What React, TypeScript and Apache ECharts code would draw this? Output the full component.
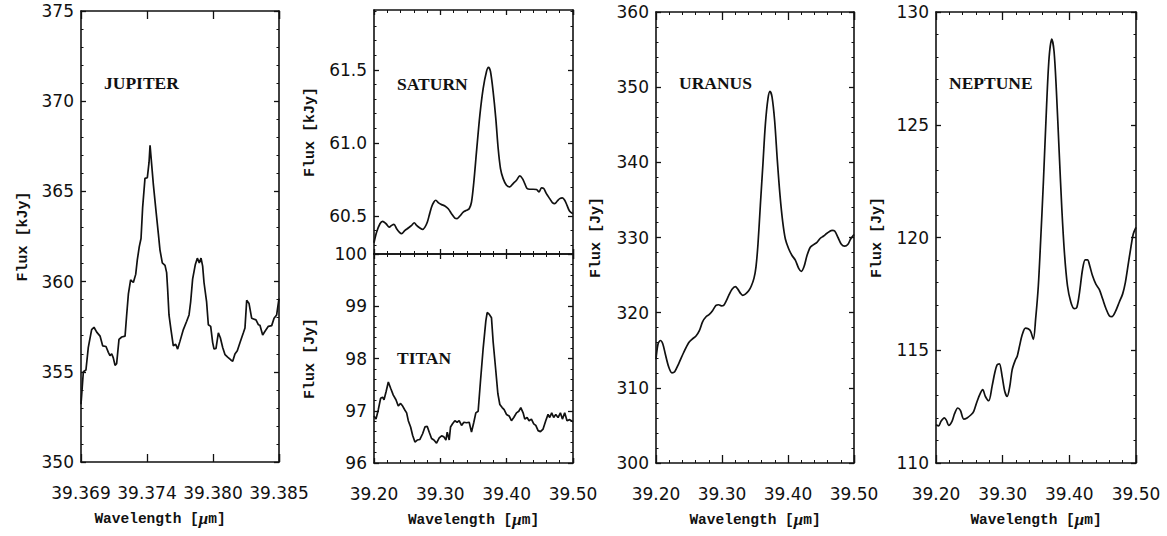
import React, { useEffect, useRef } from "react";
import * as echarts from "echarts";

// ---------- data: [wavelength (µm), flux] ----------
const JUPITER: number[][] = [
  [39.369, 353.2], [39.36919, 355.0], [39.3694, 355.1], [39.36959, 356.35], [39.36986, 357.34], [39.37005, 357.47],
  [39.37027, 357.2], [39.37054, 356.98], [39.37075, 356.44], [39.37102, 356.4], [39.37121, 356.08], [39.37134, 355.9],
  [39.37148, 356.0], [39.37161, 355.77], [39.37175, 355.36], [39.37188, 355.45], [39.37207, 356.8], [39.37229, 356.93],
  [39.37256, 356.98], [39.37269, 358.15], [39.37283, 359.32], [39.37301, 360.1], [39.37323, 359.95], [39.37342, 360.4],
  [39.37355, 361.2], [39.37371, 361.94], [39.37385, 362.39], [39.37398, 364.1], [39.37417, 365.72], [39.37436, 365.76],
  [39.3745, 366.62], [39.37458, 367.56], [39.37466, 366.9], [39.37485, 365.36], [39.37506, 363.92], [39.37525, 362.66],
  [39.37538, 361.76], [39.37557, 361.04], [39.37579, 360.9], [39.37592, 360.5], [39.376, 359.6], [39.37611, 358.15],
  [39.37627, 357.34], [39.37646, 356.44], [39.37665, 356.53], [39.37681, 356.26], [39.377, 356.7], [39.37727, 357.34],
  [39.37754, 357.8], [39.37773, 358.15], [39.37786, 358.87], [39.37802, 360.14], [39.37824, 360.95], [39.3784, 361.3],
  [39.37856, 361.04], [39.3787, 361.3], [39.37883, 360.86], [39.37894, 359.95], [39.37915, 358.87], [39.37929, 357.61],
  [39.37948, 357.52], [39.37964, 356.62], [39.37975, 356.26], [39.37991, 356.3], [39.3801, 357.16], [39.38026, 356.89],
  [39.38045, 356.35], [39.38064, 355.95], [39.38085, 355.81], [39.38109, 355.67], [39.38126, 355.58], [39.38144, 355.99],
  [39.38163, 356.17], [39.38185, 356.62], [39.38212, 357.16], [39.38225, 357.43], [39.38239, 358.96], [39.38258, 358.78],
  [39.38279, 357.97], [39.38314, 357.88], [39.38333, 357.61], [39.38346, 357.58], [39.38368, 357.04], [39.38387, 357.25],
  [39.38414, 357.52], [39.38441, 357.56], [39.3846, 357.97], [39.38481, 358.15], [39.385, 359.05],
];

const SATURN: number[][] = [
  [39.2, 60.317], [39.204, 60.39], [39.209, 60.447], [39.213, 60.463], [39.2181, 60.447], [39.2231, 60.424],
  [39.2266, 60.436], [39.2301, 60.443], [39.2341, 60.413], [39.2381, 60.39], [39.2416, 60.379], [39.2467, 60.402],
  [39.2517, 60.418], [39.2567, 60.436], [39.2607, 60.454], [39.2642, 60.436], [39.2692, 60.418], [39.2733, 60.408],
  [39.2768, 60.424], [39.2803, 60.457], [39.2833, 60.505], [39.2868, 60.562], [39.2903, 60.596], [39.2933, 60.608],
  [39.2968, 60.592], [39.3019, 60.578], [39.3069, 60.569], [39.3119, 60.55], [39.3169, 60.516], [39.3219, 60.486],
  [39.3254, 60.482], [39.3295, 60.5], [39.3345, 60.527], [39.3395, 60.539], [39.3435, 60.55], [39.347, 60.596],
  [39.3505, 60.733], [39.3545, 60.939], [39.3596, 61.191], [39.3646, 61.374], [39.3696, 61.489], [39.3726, 61.518],
  [39.3756, 61.489], [39.3796, 61.351], [39.3836, 61.168], [39.3872, 60.962], [39.3907, 60.825], [39.3947, 60.756],
  [39.3997, 60.711], [39.4047, 60.699], [39.4097, 60.722], [39.4148, 60.745], [39.4198, 60.775], [39.4238, 60.756],
  [39.4273, 60.722], [39.4308, 60.688], [39.4348, 60.683], [39.4398, 60.683], [39.4449, 60.681], [39.4489, 60.665],
  [39.4524, 60.692], [39.4559, 60.688], [39.4599, 60.653], [39.4649, 60.619], [39.4689, 60.592], [39.4725, 60.585],
  [39.476, 60.601], [39.48, 60.619], [39.484, 60.624], [39.4875, 60.608], [39.491, 60.573], [39.495, 60.532],
  [39.5, 60.516],
];

const TITAN: number[][] = [
  [39.2, 96.9], [39.203, 96.84], [39.2065, 97.02], [39.21, 97.24], [39.213, 97.26], [39.2151, 97.21], [39.2181, 97.36],
  [39.2216, 97.55], [39.2251, 97.43], [39.2291, 97.3], [39.2331, 97.21], [39.2366, 97.09], [39.2401, 97.14],
  [39.2432, 97.09], [39.2467, 97.01], [39.2492, 96.96], [39.2517, 96.81], [39.2552, 96.69], [39.2582, 96.53],
  [39.2617, 96.4], [39.2652, 96.44], [39.2692, 96.45], [39.2733, 96.56], [39.2768, 96.69], [39.2803, 96.7],
  [39.2833, 96.59], [39.2868, 96.47], [39.2903, 96.44], [39.2943, 96.38], [39.2983, 96.48], [39.3019, 96.52],
  [39.3054, 96.5], [39.3084, 96.44], [39.3104, 96.59], [39.3134, 96.44], [39.3154, 96.69], [39.3184, 96.75],
  [39.3219, 96.81], [39.3254, 96.78], [39.3284, 96.81], [39.332, 96.72], [39.3355, 96.78], [39.3395, 96.77],
  [39.3435, 96.78], [39.347, 96.59], [39.3505, 96.78], [39.3535, 96.96], [39.357, 96.99], [39.3606, 97.58],
  [39.3646, 98.2], [39.3686, 98.72], [39.3706, 98.88], [39.3736, 98.85], [39.3771, 98.78], [39.3796, 98.32],
  [39.3836, 97.77], [39.3867, 97.33], [39.3897, 97.12], [39.3932, 97.06], [39.3962, 97.02], [39.3997, 96.93],
  [39.4037, 96.9], [39.4072, 96.81], [39.4107, 96.87], [39.4148, 96.96], [39.4183, 96.99], [39.4213, 97.06],
  [39.4248, 96.96], [39.4273, 96.84], [39.4308, 96.87], [39.4338, 96.81], [39.4373, 96.84], [39.4408, 96.75],
  [39.4439, 96.72], [39.4474, 96.62], [39.4509, 96.6], [39.4549, 96.65], [39.4589, 96.81], [39.4624, 96.93],
  [39.4649, 96.87], [39.4679, 96.96], [39.4709, 96.87], [39.474, 96.93], [39.4775, 96.87], [39.481, 96.96],
  [39.484, 96.84], [39.4875, 96.96], [39.491, 96.81], [39.495, 96.83], [39.5, 96.79],
];

const URANUS: number[][] = [
  [39.2, 313.8], [39.203, 315.8], [39.2066, 316.3], [39.2101, 315.9], [39.2141, 314.5], [39.2192, 312.8],
  [39.2242, 312.0], [39.2283, 312.15], [39.2343, 313.2], [39.2419, 314.7], [39.2495, 316.0], [39.2545, 316.45],
  [39.2606, 316.9], [39.2657, 317.6], [39.2707, 318.8], [39.2758, 319.46], [39.2808, 319.76], [39.2859, 320.3],
  [39.2909, 320.97], [39.2949, 321.05], [39.299, 320.9], [39.3025, 320.97], [39.3061, 321.5], [39.3101, 322.26],
  [39.3152, 323.1], [39.3202, 323.46], [39.3242, 323.1], [39.3278, 322.6], [39.3313, 322.3], [39.3354, 322.47],
  [39.3404, 322.9], [39.3444, 323.55], [39.3485, 324.6], [39.3515, 326.1], [39.3545, 329.1], [39.3581, 334.3],
  [39.3621, 339.9], [39.3657, 345.05], [39.3697, 348.5], [39.3727, 349.44], [39.3758, 348.7], [39.3798, 345.5],
  [39.3838, 340.3], [39.3879, 335.6], [39.3919, 332.15], [39.396, 329.8], [39.401, 328.5], [39.4061, 327.6],
  [39.4111, 326.99], [39.4162, 325.9], [39.4202, 325.5], [39.4242, 326.1], [39.4288, 327.6], [39.4338, 328.7],
  [39.4389, 329.05], [39.4439, 329.35], [39.449, 329.9], [39.454, 330.2], [39.4591, 330.56], [39.4667, 330.95],
  [39.4707, 330.86], [39.4758, 330.0], [39.4808, 329.1], [39.4859, 328.84], [39.4909, 329.1], [39.4949, 329.8],
  [39.5, 330.4],
];

const NEPTUNE: number[][] = [
  [39.2, 111.7], [39.204, 111.65], [39.2075, 111.85], [39.2125, 112.0], [39.2155, 111.9], [39.219, 111.67],
  [39.224, 111.85], [39.228, 112.2], [39.2326, 112.44], [39.2366, 112.33], [39.2416, 111.95], [39.2466, 112.0],
  [39.2526, 112.14], [39.2566, 112.29], [39.2616, 112.73], [39.2666, 113.1], [39.2701, 113.25], [39.2741, 112.95],
  [39.2791, 112.76], [39.2841, 113.4], [39.2881, 113.99], [39.2916, 114.35], [39.2951, 114.4], [39.2992, 113.84],
  [39.3032, 113.17], [39.3067, 112.95], [39.3107, 113.4], [39.3142, 114.13], [39.3192, 114.58], [39.3217, 114.72],
  [39.3257, 115.24], [39.3292, 115.68], [39.3342, 115.98], [39.3382, 115.95], [39.342, 115.84], [39.346, 115.48],
  [39.3495, 116.4], [39.3535, 117.86], [39.357, 119.88], [39.3611, 122.47], [39.3656, 125.65], [39.3696, 127.96],
  [39.3736, 128.8], [39.3771, 128.25], [39.3806, 126.5], [39.3846, 123.9], [39.3887, 121.3], [39.3927, 119.3],
  [39.3972, 117.86], [39.4022, 117.14], [39.4072, 116.85], [39.4112, 116.9], [39.4153, 117.57], [39.4198, 118.58],
  [39.4238, 119.01], [39.4273, 119.01], [39.4308, 118.72], [39.4348, 118.3], [39.4398, 117.93], [39.4449, 117.7],
  [39.4499, 117.28], [39.4549, 116.85], [39.4599, 116.53], [39.4639, 116.49], [39.4689, 116.7], [39.475, 117.14],
  [39.48, 117.5], [39.484, 118.0], [39.4875, 118.65], [39.4925, 119.6], [39.496, 120.17], [39.5, 120.45],
];

// ---------- tick values ----------
const JUPITER_X_TICKS = [39.369, 39.374333, 39.379667, 39.385];
const WIDE_X_TICKS = [39.2, 39.3, 39.4, 39.5];
const JUPITER_Y_TICKS = [350, 355, 360, 365, 370, 375];
const SATURN_Y_TICKS = [60.5, 61.0, 61.5];
const TITAN_Y_TICKS = [96, 97, 98, 99, 100];
const URANUS_Y_TICKS = [300, 310, 320, 330, 340, 350, 360];
const NEPTUNE_Y_TICKS = [110, 115, 120, 125, 130];

const PLANET_NAMES = ["JUPITER", "SATURN", "TITAN", "URANUS", "NEPTUNE"];
const X_NAME = "Wavelength [{mu|μ}m]";

type Panel = {
  data: number[][];
  smooth: number | boolean;
  rect: [number, number, number, number];
  xMin: number; xMax: number; xTicks: number[]; xMinorStep: number; xDec: number;
  yMin: number; yMax: number; yTicks: number[]; yMinorStep: number; yDec: number;
  yName: string; yNameGap: number;
  showX: boolean; xNamePad?: number[];
  label: string; labelPos: [number, number];
};

const PANELS: Panel[] = [
  {
    data: JUPITER, smooth: false, rect: [81, 11, 198, 451],
    xMin: 39.369, xMax: 39.385, xTicks: JUPITER_X_TICKS, xMinorStep: 0, xDec: 3,
    yMin: 350, yMax: 375, yTicks: JUPITER_Y_TICKS, yMinorStep: 1, yDec: 0,
    yName: "Flux [kJy]", yNameGap: 50, showX: true, xNamePad: [0, 40, 0, 0],
    label: PLANET_NAMES[0], labelPos: [104, 83],
  },
  {
    data: SATURN, smooth: 0.3, rect: [374, 10, 199, 244],
    xMin: 39.2, xMax: 39.5, xTicks: WIDE_X_TICKS, xMinorStep: 0.02, xDec: 2,
    yMin: 60.24, yMax: 61.91, yTicks: SATURN_Y_TICKS, yMinorStep: 0.1, yDec: 1,
    yName: "Flux [kJy]", yNameGap: 56, showX: false,
    label: PLANET_NAMES[1], labelPos: [397, 84],
  },
  {
    data: TITAN, smooth: false, rect: [374, 254, 199, 209],
    xMin: 39.2, xMax: 39.5, xTicks: WIDE_X_TICKS, xMinorStep: 0.02, xDec: 2,
    yMin: 96, yMax: 100, yTicks: TITAN_Y_TICKS, yMinorStep: 0.2, yDec: 0,
    yName: "Flux [Jy]", yNameGap: 56, showX: true,
    label: PLANET_NAMES[2], labelPos: [397, 358],
  },
  {
    data: URANUS, smooth: 0.3, rect: [656, 12, 198, 451],
    xMin: 39.2, xMax: 39.5, xTicks: WIDE_X_TICKS, xMinorStep: 0.02, xDec: 2,
    yMin: 300, yMax: 360, yTicks: URANUS_Y_TICKS, yMinorStep: 2, yDec: 0,
    yName: "Flux [Jy]", yNameGap: 52, showX: true,
    label: PLANET_NAMES[3], labelPos: [679, 83],
  },
  {
    data: NEPTUNE, smooth: 0.3, rect: [936, 12, 200, 451],
    xMin: 39.2, xMax: 39.5, xTicks: WIDE_X_TICKS, xMinorStep: 0.02, xDec: 2,
    yMin: 110, yMax: 130, yTicks: NEPTUNE_Y_TICKS, yMinorStep: 1, yDec: 0,
    yName: "Flux [Jy]", yNameGap: 51, showX: true,
    label: PLANET_NAMES[4], labelPos: [949, 83],
  },
];

const INK = "#111";
const TICK_FONT = "DejaVu Sans";
const NAME_FONT = "Liberation Mono";

function buildOption() {
  const grid: any[] = [];
  const xAxis: any[] = [];
  const yAxis: any[] = [];
  const series: any[] = [];
  const graphic: any[] = [];

  const addGrid = (l: number, t: number, w: number, h: number) => {
    grid.push({ left: l, top: t, width: w, height: h, containLabel: false });
    return grid.length - 1;
  };
  const hiddenAxis = (gridIndex: number) => ({
    type: "value", gridIndex, show: false, min: 0, max: 1, splitLine: { show: false },
  });

  // decoration grid carrying only ticks along x (dir "x") or y (dir "y"),
  // spanning exactly from the first to the last tick value
  const addTickGrid = (
    p: Panel, dir: "x" | "y", start: number, end: number, step: number, len: number, width: number
  ) => {
    const [l, t, w, h] = p.rect;
    const tickStyle = {
      show: true, inside: true, length: len, lineStyle: { color: INK, width },
    };
    if (dir === "x") {
      const px = w / (p.xMax - p.xMin);
      const gi = addGrid(l + (start - p.xMin) * px, t, (end - start) * px, h);
      ["bottom", "top"].forEach((pos) =>
        xAxis.push({
          type: "value", gridIndex: gi, position: pos, min: start, max: end, interval: step,
          axisLine: { show: false, onZero: false }, axisTick: tickStyle,
          axisLabel: { show: false }, splitLine: { show: false },
        })
      );
      yAxis.push(hiddenAxis(gi));
    } else {
      const px = h / (p.yMax - p.yMin);
      const gi = addGrid(l, t + (p.yMax - end) * px, w, (end - start) * px);
      ["left", "right"].forEach((pos) =>
        yAxis.push({
          type: "value", gridIndex: gi, position: pos, min: start, max: end, interval: step,
          axisLine: { show: false, onZero: false }, axisTick: tickStyle,
          axisLabel: { show: false }, splitLine: { show: false },
        })
      );
      xAxis.push(hiddenAxis(gi));
    }
  };

  const span = (min: number, max: number, step: number): [number, number] => {
    const a = Math.ceil(min / step - 1e-7);
    const b = Math.floor(max / step + 1e-7);
    return [Number((a * step).toFixed(8)), Number((b * step).toFixed(8))];
  };

  PANELS.forEach((p) => {
    const [l, t, w, h] = p.rect;
    const main = addGrid(l, t, w, h);
    const line = { show: true, onZero: false, lineStyle: { color: INK, width: 1.6 } };
    const xBase = { type: "value", gridIndex: main, min: p.xMin, max: p.xMax, splitLine: { show: false } };
    const yBase = { type: "value", gridIndex: main, min: p.yMin, max: p.yMax, splitLine: { show: false } };

    const xIdx = xAxis.length;
    xAxis.push({
      ...xBase, position: "bottom", axisLine: line, axisTick: { show: false },
      axisLabel: p.showX
        ? {
            show: true, customValues: p.xTicks, margin: 22, color: INK, fontFamily: TICK_FONT, fontSize: 17,
            formatter: (v: number) => v.toFixed(p.xDec),
          }
        : { show: false },
      name: p.showX ? X_NAME : "",
      nameLocation: "middle", nameGap: 48,
      nameTextStyle: {
        fontFamily: NAME_FONT, fontWeight: "bold", fontSize: 14.5, color: INK,
        padding: p.xNamePad || [0, 0, 0, 0],
        rich: { mu: { fontFamily: "Liberation Serif", fontStyle: "italic", fontSize: 17, color: INK } },
      },
    });
    xAxis.push({ ...xBase, position: "top", axisLine: line, axisTick: { show: false }, axisLabel: { show: false } });

    const yIdx = yAxis.length;
    yAxis.push({
      ...yBase, position: "left", axisLine: line, axisTick: { show: false },
      axisLabel: {
        show: true, customValues: p.yTicks, margin: 7, color: INK, fontFamily: TICK_FONT, fontSize: 17,
        formatter: (v: number) => v.toFixed(p.yDec),
      },
      name: p.yName, nameLocation: "middle", nameRotate: 90, nameGap: p.yNameGap,
      nameTextStyle: { fontFamily: NAME_FONT, fontWeight: "bold", fontSize: 15, color: INK },
    });
    yAxis.push({ ...yBase, position: "right", axisLine: line, axisTick: { show: false }, axisLabel: { show: false } });

    series.push({
      type: "line",
      xAxisIndex: xIdx,
      yAxisIndex: yIdx,
      data: p.data,
      smooth: p.smooth,
      showSymbol: false,
      symbol: "none",
      lineStyle: { color: INK, width: 1.7 },
    });

    // major / minor ticks along x
    const xMajorStep = p.xTicks[1] - p.xTicks[0];
    const xLen = Math.max(5, Math.round(h * 0.018));
    addTickGrid(p, "x", p.xTicks[0], p.xTicks[p.xTicks.length - 1], xMajorStep, xLen, 1.3);
    if (p.xMinorStep > 0) {
      const [a, b] = span(p.xMin, p.xMax, p.xMinorStep);
      addTickGrid(p, "x", a, b, p.xMinorStep, 3, 1);
    }
    // major / minor ticks along y
    const yMajorStep = p.yTicks[1] - p.yTicks[0];
    addTickGrid(p, "y", p.yTicks[0], p.yTicks[p.yTicks.length - 1], yMajorStep, 5, 1.3);
    const [ya, yb] = span(p.yMin, p.yMax, p.yMinorStep);
    addTickGrid(p, "y", ya, yb, p.yMinorStep, 2.5, 1);

    graphic.push({
      type: "text",
      x: p.labelPos[0],
      y: p.labelPos[1],
      style: {
        text: p.label,
        fill: INK,
        font: "bold 17.5px 'Liberation Serif'",
        verticalAlign: "middle",
        align: "left",
      },
    });
  });

  return {
    animation: false,
    backgroundColor: "#ffffff",
    grid,
    xAxis,
    yAxis,
    series,
    graphic,
  };
}

export default function App() {
  const ref = useRef<HTMLDivElement>(null);
  useEffect(() => {
    if (!ref.current) return;
    const chart = echarts.init(ref.current, undefined, { renderer: "svg" });
    chart.setOption(buildOption() as any);
    return () => chart.dispose();
  }, []);
  return (
    <div
      ref={ref}
      style={{ position: "absolute", left: 0, top: 0, width: 1167, height: 536, background: "#fff" }}
    />
  );
}
